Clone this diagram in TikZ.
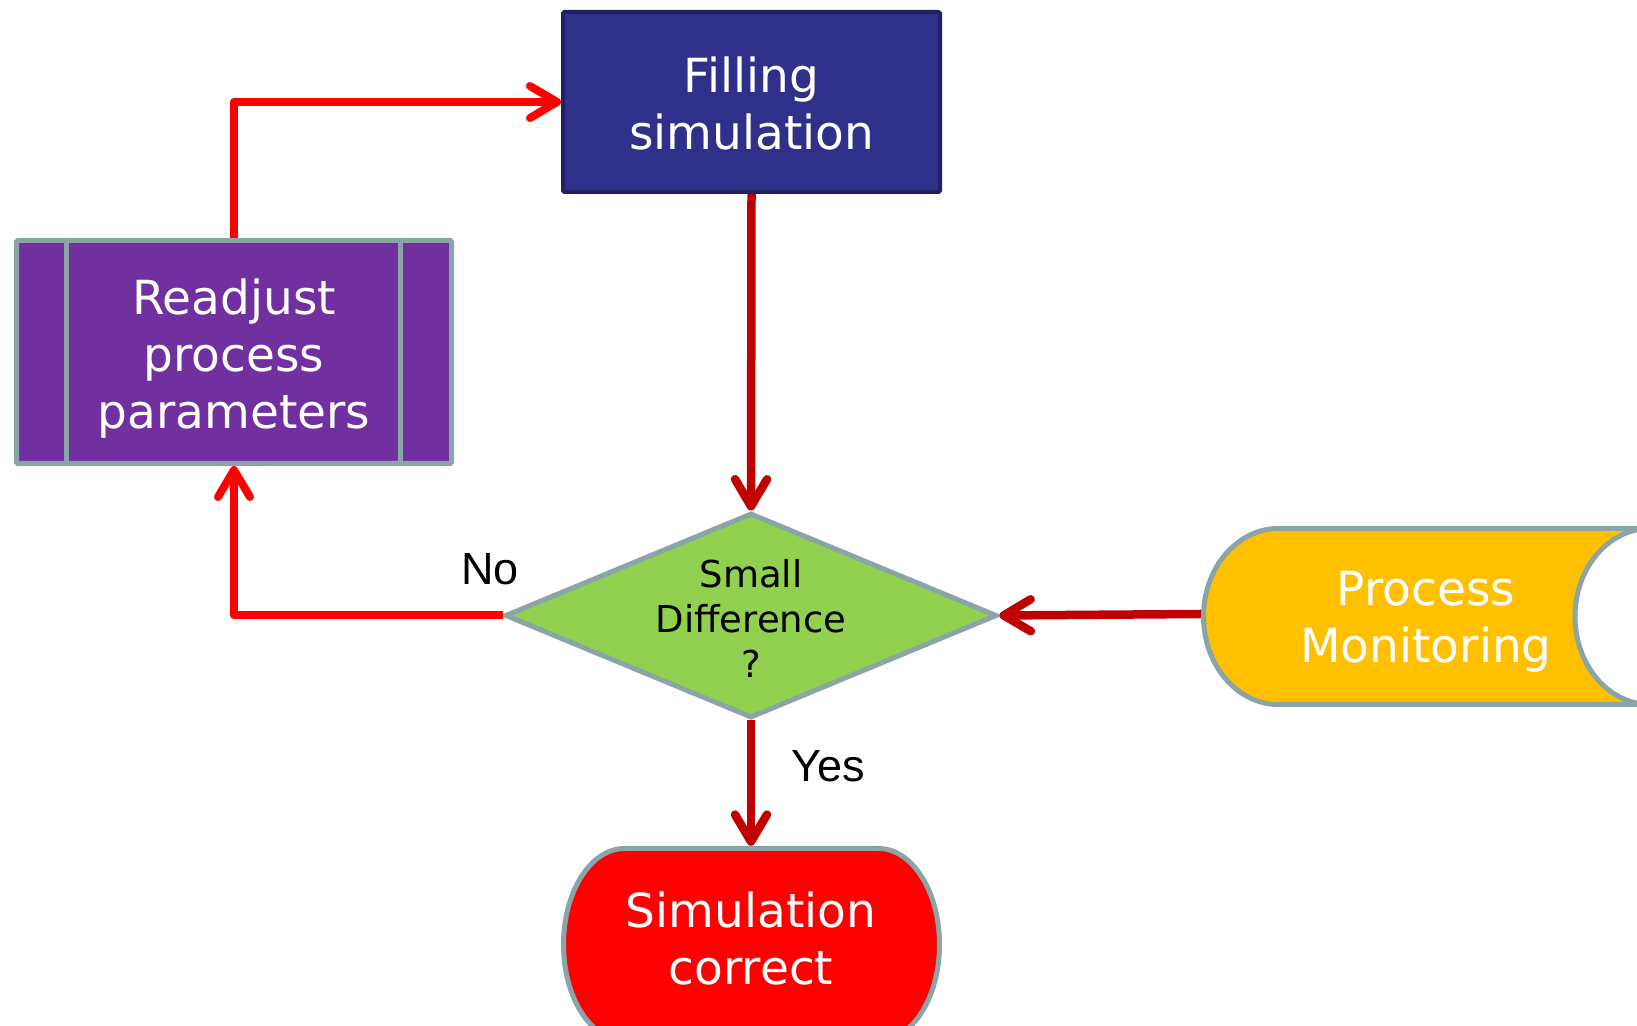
\documentclass[tikz,border=0pt]{standalone}
\usepackage{fontspec}
\setmainfont{DejaVu Sans}
\newfontfamily\arialfont{Liberation Sans}
\usetikzlibrary{arrows.meta,shapes.geometric}
\definecolor{navyfill}{RGB}{46,48,137}
\definecolor{navyline}{RGB}{31,33,96}
\definecolor{purplefill}{RGB}{112,48,160}
\definecolor{greyline}{RGB}{139,164,168}
\definecolor{greenfill}{RGB}{146,208,80}
\definecolor{amberfill}{RGB}{255,192,0}
\definecolor{brightred}{RGB}{255,0,0}
\definecolor{darkred}{RGB}{192,0,0}
\begin{document}
\begin{tikzpicture}[x=1pt,y=1pt,
  bigtext/.style={font=\fontsize{47}{57}\selectfont, text=white, align=center},
  greyborder/.style={draw=greyline, line width=5pt},
  barbtip/.style={-{Straight Barb[length=27pt,width=32pt,line cap=round,line join=round]}},
  darkarrow/.style={draw=darkred, line width=8.5pt, barbtip},
  brightarrow/.style={draw=brightred, line width=8pt, line join=round, barbtip},
  lbl/.style={font=\arialfont\fontsize{45}{54}\selectfont, text=black, inner sep=0pt}
]
\useasboundingbox (0,0) rectangle (1637,1025);
\clip (0,0) rectangle (1637,1025);

% Filling simulation
\node (fill) [draw=navyline, line width=4pt, fill=navyfill, rounded corners=1.5pt,
  minimum width=377pt, minimum height=180pt, inner sep=0pt,
  label={[bigtext, yshift=-1.5pt]center:Filling\\simulation}] at (751.5,923) {};

% Readjust process parameters
\node (adj) [greyborder, fill=purplefill, rounded corners=1.5pt,
  minimum width=435pt, minimum height=223pt, inner sep=0pt,
  label={[bigtext, yshift=-7pt]center:Readjust\\process\\parameters}] at (234,673) {};
\draw[greyborder] ([xshift=52.5pt]adj.north west) -- ([xshift=52.5pt]adj.south west);
\draw[greyborder] ([xshift=-53.5pt]adj.north east) -- ([xshift=-53.5pt]adj.south east);

% Decision
\node (dia) [diamond, greyborder, fill=greenfill, minimum width=492pt, minimum height=205pt, inner sep=0pt,
  label={[font=\fontsize{37}{45}\selectfont, align=center, text=black, yshift=-3pt]center:Small\\Difference\\?}] at (751,409.5) {};

% Process Monitoring (stored data shape)
\path[greyborder, fill=amberfill] (1278.5,496.5) -- (1650,496.5)
  arc[start angle=90,end angle=270,x radius=75,y radius=88] -- (1278.5,320.5)
  arc[start angle=270,end angle=90,x radius=75,y radius=88] -- cycle;
\node (pm) [bigtext, minimum width=450pt, minimum height=181pt, inner sep=0pt] at (1426,403) {Process\\Monitoring};

% Simulation correct (terminator)
\path[greyborder, fill=brightred] (624.5,176.5) -- (878.5,176.5)
  arc[start angle=90,end angle=-90,x radius=61,y radius=96] -- (624.5,-15.5)
  arc[start angle=270,end angle=90,x radius=61,y radius=96] -- cycle;
\node (sc) [bigtext, minimum width=381pt, minimum height=184pt, inner sep=0pt] at (751,87) {Simulation\\correct};

% Labels
\node (nolbl) [lbl] at (490,456) {No};
\node (yeslbl) [lbl] at (828,259) {Yes};

% Connectors
\draw[darkarrow] (fill.south) -- (dia.north);
\draw[darkarrow] ([yshift=8pt]pm.west) -- (dia.east);
\draw[brightarrow] (dia.west) -| (adj.south);
\draw[brightarrow] (adj.north) |- (fill.west);
\draw[darkarrow] (dia.south) -- (sc.north);
\end{tikzpicture}
\end{document}
